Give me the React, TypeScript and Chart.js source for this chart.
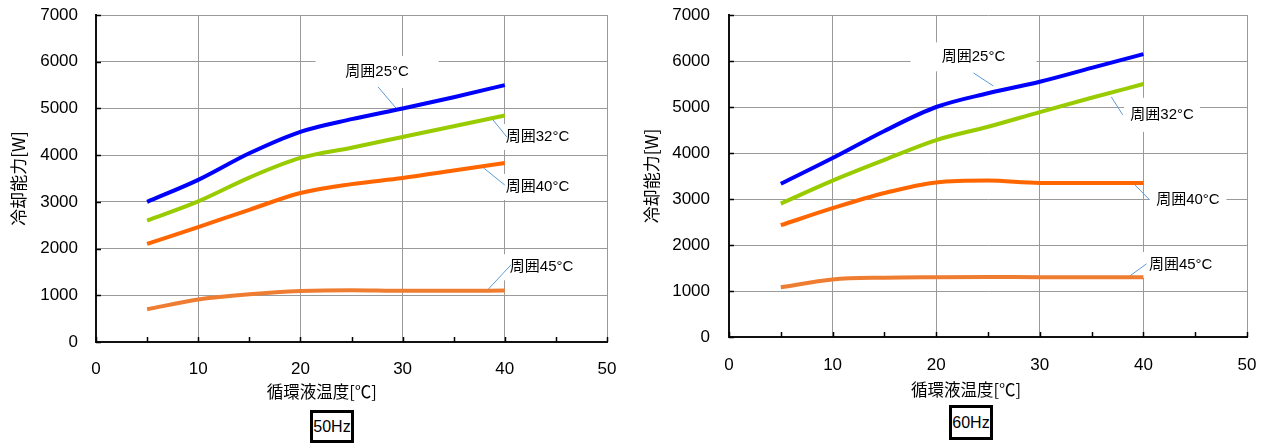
import React, { useEffect, useRef } from 'react';
import { Chart, registerables } from 'chart.js';

Chart.register(...registerables);

// ---- data ----
const X_TEMPS = [5, 10, 15, 20, 25, 30, 35, 40];
const SERIES_NAMES = ['周囲25°C', '周囲32°C', '周囲40°C', '周囲45°C'];
const HZ50_25 = [3000, 3470, 4040, 4500, 4770, 5000, 5240, 5500];
const HZ50_32 = [2600, 3010, 3520, 3940, 4160, 4390, 4620, 4850];
const HZ50_40 = [2100, 2460, 2830, 3190, 3380, 3510, 3670, 3830];
const HZ50_45 = [700, 910, 1020, 1090, 1110, 1095, 1095, 1100];
const HZ60_25 = [3330, 3890, 4480, 5000, 5300, 5550, 5850, 6150];
const HZ60_32 = [2900, 3400, 3850, 4280, 4570, 4890, 5200, 5500];
const HZ60_40 = [2430, 2800, 3130, 3360, 3400, 3350, 3350, 3350];
const HZ60_45 = [1080, 1250, 1290, 1300, 1305, 1300, 1300, 1300];
const X_TITLE = '循環液温度[℃]';
const Y_TITLE = '冷却能力[W]';
const FREQ_LABELS = ['50Hz', '60Hz'];

const COLORS = ['#0000FF', '#99CC00', '#FF6600', '#EE7D31'];
const LATIN = "'Liberation Sans', Arial, 'Noto Sans CJK JP', sans-serif";
const CJK = "'Noto Sans CJK JP', sans-serif";

type Annot = { text: string; at: [number, number]; box: [number, number]; lead: [[number, number], [number, number]] };

const ANNOT_50: Annot[] = [
  { text: SERIES_NAMES[0], at: [27.5, 5780], box: [123, 32], lead: [[27.6, 5460], [29.5, 4970]] },
  { text: SERIES_NAMES[1], at: [43.2, 4390], box: [76, 26], lead: [[38.6, 4820], [40.2, 4390]] },
  { text: SERIES_NAMES[2], at: [43.2, 3320], box: [76, 26], lead: [[37.9, 3730], [40.0, 3360]] },
  { text: SERIES_NAMES[3], at: [43.6, 1600], box: [76, 26], lead: [[38.3, 1110], [40.6, 1650]] },
];
const ANNOT_60: Annot[] = [
  { text: SERIES_NAMES[0], at: [23.6, 6090], box: [126, 29], lead: [[23.6, 5740], [25.5, 5460]] },
  { text: SERIES_NAMES[1], at: [41.8, 4830], box: [76, 34], lead: [[36.9, 5220], [38.0, 4830]] },
  { text: SERIES_NAMES[2], at: [44.3, 2980], box: [77, 28], lead: [[39.0, 3350], [40.6, 2980]] },
  { text: SERIES_NAMES[3], at: [43.6, 1565], box: [76, 26], lead: [[38.4, 1280], [40.3, 1590]] },
];

function makePlugin(items: Annot[], titleFrac: number, titleY: number) {
  return {
    id: 'annotAndTicks',
    beforeDatasetsDraw(chart: any) {
      const { ctx, scales } = chart;
      const x = scales.x, y = scales.y;
      ctx.save();
      for (const it of items) {
        const cx = x.getPixelForValue(it.at[0]);
        const cy = y.getPixelForValue(it.at[1]);
        ctx.fillStyle = '#FFFFFF';
        ctx.fillRect(cx - it.box[0] / 2, cy - it.box[1] / 2, it.box[0], it.box[1]);
      }
      ctx.strokeStyle = '#5B9BD5';
      ctx.lineWidth = 1;
      for (const it of items) {
        ctx.beginPath();
        ctx.moveTo(x.getPixelForValue(it.lead[0][0]), y.getPixelForValue(it.lead[0][1]));
        ctx.lineTo(x.getPixelForValue(it.lead[1][0]), y.getPixelForValue(it.lead[1][1]));
        ctx.stroke();
      }
      ctx.fillStyle = '#000';
      ctx.font = `15px ${LATIN}`;
      ctx.textAlign = 'center';
      ctx.textBaseline = 'middle';
      for (const it of items) {
        ctx.fillText(it.text, x.getPixelForValue(it.at[0]), y.getPixelForValue(it.at[1]));
      }
      ctx.restore();
    },
    afterDraw(chart: any) {
      const { ctx, scales, chartArea } = chart;
      const x = scales.x, y = scales.y;
      ctx.save();
      ctx.strokeStyle = '#000';
      ctx.lineWidth = 1.5;
      ctx.beginPath();
      for (let v = x.min; v <= x.max; v += 5) {
        const px = Math.round(x.getPixelForValue(v)) + 0.5;
        ctx.moveTo(px, chartArea.bottom);
        ctx.lineTo(px, chartArea.bottom - 5);
      }
      for (const t of y.ticks) {
        const py = Math.round(y.getPixelForValue(t.value)) + 0.5;
        ctx.moveTo(chartArea.left, py);
        ctx.lineTo(chartArea.left + 5, py);
      }
      ctx.stroke();
      // x-axis title (placed left of centre, as in the source figure)
      ctx.fillStyle = '#000';
      ctx.font = `16.5px ${CJK}`;
      ctx.textAlign = 'center';
      ctx.textBaseline = 'middle';
      ctx.fillText(X_TITLE, chartArea.left + titleFrac * (chartArea.right - chartArea.left), titleY);
      ctx.restore();
    },
  };
}

type Props = {
  series: number[][];
  annots: Annot[];
  width: number;
  xHeight: number;
  xTickPad: number;
  yTickPad: number;
  titleFrac: number;
  titleY: number;
};

function PerfChart({ series, annots, width, xHeight, xTickPad, yTickPad, titleFrac, titleY }: Props) {
  const ref = useRef<HTMLCanvasElement | null>(null);
  useEffect(() => {
    if (!ref.current) return;
    const chart = new Chart(ref.current, {
      type: 'line',
      data: {
        datasets: series.map((vals, i) => ({
          label: SERIES_NAMES[i],
          data: X_TEMPS.map((xv, j) => ({ x: xv, y: vals[j] })),
          borderColor: COLORS[i],
          backgroundColor: COLORS[i],
          borderWidth: 4,
          pointRadius: 0,
          cubicInterpolationMode: 'monotone',
          fill: false,
        })),
      },
      options: {
        responsive: false,
        animation: false,
        layout: { padding: { top: 15, right: 26, left: 0, bottom: 0 } },
        plugins: { legend: { display: false }, tooltip: { enabled: false } },
        scales: {
          x: {
            type: 'linear',
            min: 0,
            max: 50,
            ticks: {
              stepSize: 10,
              padding: xTickPad,
              color: '#000',
              font: { family: LATIN, size: 17 },
              callback: (v: any) => String(v),
            },
            grid: { color: '#9A9A9A', lineWidth: 1, drawTicks: false },
            border: { color: '#111', width: 2 },
            title: { display: false, text: X_TITLE },
            afterFit: (s: any) => {
              s.height = xHeight;
              s.paddingLeft = 0;
              s.paddingRight = 0;
            },
          },
          y: {
            type: 'linear',
            min: 0,
            max: 7000,
            ticks: {
              stepSize: 1000,
              padding: yTickPad,
              color: '#000',
              font: { family: LATIN, size: 17 },
              callback: (v: any) => String(v),
            },
            grid: { color: '#9A9A9A', lineWidth: 1, drawTicks: false },
            border: { color: '#111', width: 2 },
            title: {
              display: true,
              text: Y_TITLE,
              color: '#000',
              font: { family: CJK, size: 17 },
              padding: { top: 8, bottom: 0 },
            },
            afterFit: (s: any) => {
              s.width = 96;
              s.paddingTop = 0;
              s.paddingBottom = 0;
            },
          },
        },
      } as any,
      plugins: [makePlugin(annots, titleFrac, titleY)],
    });
    return () => chart.destroy();
  }, []);
  return <canvas ref={ref} width={width} height={444} style={{ display: 'block' }} />;
}

function FreqBox({ text, left, top, height }: { text: string; left: number; top: number; height: number }) {
  return (
    <div
      style={{
        position: 'absolute',
        left,
        top,
        width: 44,
        height,
        boxSizing: 'border-box',
        border: '3px solid #000',
        fontFamily: LATIN,
        fontSize: 16,
        lineHeight: `${height - 6}px`,
        textAlign: 'center',
        color: '#000',
        background: '#fff',
        whiteSpace: 'nowrap',
        overflow: 'hidden',
      }}
    >
      {text}
    </div>
  );
}

export default function App() {
  return (
    <div style={{ position: 'fixed', left: 0, top: 0, width: 1273, height: 444, background: '#fff', overflow: 'hidden' }}>
      <div style={{ position: 'absolute', left: 0, top: 0 }}>
        <PerfChart
          series={[HZ50_25, HZ50_32, HZ50_40, HZ50_45]}
          annots={ANNOT_50}
          width={633}
          xHeight={102}
          xTickPad={17}
          yTickPad={18}
          titleFrac={0.442}
          titleY={392}
        />
      </div>
      <div style={{ position: 'absolute', left: 633, top: 0 }}>
        <PerfChart
          series={[HZ60_25, HZ60_32, HZ60_40, HZ60_45]}
          annots={ANNOT_60}
          width={640}
          xHeight={107}
          xTickPad={18}
          yTickPad={19}
          titleFrac={0.4575}
          titleY={390}
        />
      </div>
      <FreqBox text={FREQ_LABELS[0]} left={310} top={410} height={33} />
      <FreqBox text={FREQ_LABELS[1]} left={949} top={405} height={35} />
    </div>
  );
}
